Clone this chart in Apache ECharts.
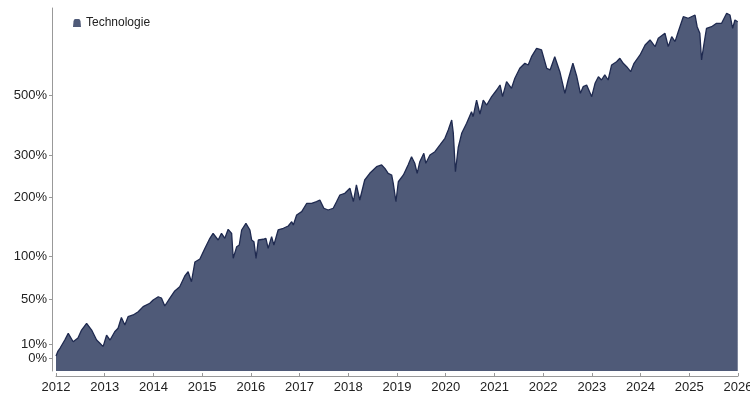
<!DOCTYPE html>
<html>
<head>
<meta charset="utf-8">
<script src="https://cdn.jsdelivr.net/npm/echarts@6/dist/echarts.min.js"></script>
<style>html,body{margin:0;padding:0;background:#fff}#c{width:750px;height:400px}</style>
</head>
<body>
<div id="c"></div>
<script>
var seriesName = 'Technologie';
var dates = ['2012-01-01','2012-01-16','2012-02-01','2012-03-07','2012-04-02','2012-05-09','2012-06-14','2012-07-11','2012-08-18','2012-09-25','2012-11-01','2012-11-26','2012-12-20',
'2013-01-15','2013-02-10','2013-03-17','2013-04-11','2013-05-06','2013-06-01','2013-06-25','2013-08-02','2013-09-09','2013-10-16','2013-12-05','2013-12-30',
'2014-02-06','2014-03-02','2014-03-27','2014-05-03','2014-06-10','2014-07-17','2014-08-24','2014-09-18','2014-10-13','2014-11-08','2014-12-15',
'2015-01-22','2015-02-28','2015-03-24','2015-05-01','2015-05-26','2015-06-20','2015-07-15','2015-08-10','2015-08-22','2015-09-17','2015-10-06','2015-10-24','2015-11-25','2015-12-25',
'2016-01-07','2016-01-24','2016-02-09','2016-02-26','2016-04-03','2016-04-23','2016-05-10','2016-06-05','2016-06-22','2016-07-24','2016-09-01','2016-10-08','2016-11-03','2016-11-15','2016-12-10',
'2017-01-17','2017-02-24','2017-04-01','2017-05-08','2017-06-02','2017-07-02','2017-08-03','2017-09-10','2017-10-05','2017-10-30','2017-12-06',
'2018-01-13','2018-02-08','2018-03-03','2018-03-28','2018-05-04','2018-06-11','2018-08-01','2018-09-08','2018-10-02','2018-10-27','2018-11-22','2018-12-04','2018-12-24',
'2019-01-11','2019-02-18','2019-03-25','2019-04-20','2019-05-14','2019-06-01','2019-06-21','2019-07-21','2019-08-05','2019-09-05','2019-10-12','2019-11-19','2019-12-26',
'2020-01-20','2020-02-15','2020-02-27','2020-03-14','2020-04-04','2020-04-30','2020-06-06','2020-07-13','2020-07-25','2020-08-20','2020-09-14','2020-10-09','2020-11-04','2020-12-11',
'2021-01-18','2021-02-12','2021-03-03','2021-04-02','2021-05-09','2021-06-03','2021-07-10','2021-08-17','2021-09-11','2021-10-06','2021-11-13','2021-12-20',
'2022-01-28','2022-02-22','2022-03-29','2022-05-06','2022-06-13','2022-07-07','2022-08-12','2022-09-09','2022-10-07','2022-10-28','2022-11-23','2022-12-31',
'2023-01-25','2023-02-19','2023-03-14','2023-04-08','2023-05-03','2023-05-29','2023-07-05','2023-07-30','2023-08-24','2023-09-19','2023-10-19','2023-11-13','2023-12-28',
'2024-02-04','2024-03-12','2024-04-19','2024-05-13','2024-07-02','2024-07-27','2024-08-22','2024-09-16','2024-10-10','2024-11-17','2024-12-24',
'2025-02-13','2025-03-01','2025-03-21','2025-04-03','2025-04-20','2025-05-10','2025-06-17','2025-07-24','2025-08-31','2025-10-08','2025-11-02','2025-11-22','2025-12-09','2025-12-30'];
var values = [1.7,5.2,7.4,13.4,18.7,12.1,15.0,21.4,27.1,21.4,13.4,10.9,8.4,
17.3,13.4,20.0,22.9,32.2,25.6,33.0,34.5,37.5,42.4,45.7,49.0,
52.3,51.0,43.0,50.7,58.4,63.1,75.4,80.6,68.7,93.0,97.0,
111.8,126.8,134.6,124.2,134.6,126.8,141.1,134.6,97.9,114.2,116.7,140.0,151.2,140.0,
124.2,121.6,97.9,124.2,125.3,126.8,111.8,129.3,116.7,140.0,142.8,146.6,154.0,148.3,165.9,
171.9,187.9,187.9,191.0,194.4,178.3,175.0,178.3,191.0,204.6,208.2,
218.9,191.0,226.1,194.4,237.4,253.1,269.4,273.7,265.3,253.1,249.1,229.9,191.0,
233.4,249.1,273.7,295.4,278.1,253.1,282.2,304.7,278.1,300.1,309.1,328.3,348.3,
374.3,407.7,364.8,257.0,321.0,363.8,396.6,437.3,419.3,481.7,428.9,481.7,462.3,495.1,
522.8,544.5,495.1,559.1,530.1,574.5,622.0,647.3,638.7,681.6,727.5,718.2,
622.0,614.0,681.6,605.6,509.1,566.8,647.3,585.3,509.1,537.3,544.5,495.1,
552.0,582.0,566.8,590.1,566.8,638.7,655.3,673.0,647.3,630.0,605.6,647.3,690.8,
746.6,775.9,736.8,786.0,816.7,736.8,795.8,765.9,826.7,926.0,915.5,
938.1,858.9,816.7,664.3,746.6,848.4,858.9,881.2,881.2,950.4,938.1,848.4,903.5,891.7];
var yTickPercents = [0, 10, 50, 100, 200, 300, 500];
var xTickYears = [2012, 2013, 2014, 2015, 2016, 2017, 2018, 2019, 2020, 2021, 2022, 2023, 2024, 2025, 2026];

function toLog(p) { return Math.log10(1 + p / 100); }
function toYear(s) {
  var p = s.split('-').map(Number);
  var y = p[0];
  var t = Date.UTC(y, p[1] - 1, p[2]);
  var a = Date.UTC(y, 0, 1), b = Date.UTC(y + 1, 0, 1);
  return y + (t - a) / (b - a);
}
var seriesData = dates.map(function (d, i) { return [toYear(d), toLog(values[i])]; });
var yTickValues = yTickPercents.map(toLog);

var chart = echarts.init(document.getElementById('c'), null, {renderer: 'canvas'});
chart.setOption({
  animation: false,
  textStyle: {fontFamily: 'Liberation Sans, Arial, sans-serif'},
  grid: {left: 56, right: 12, top: 8, bottom: 29, containLabel: false, outerBoundsMode: 'none'},
  legend: {
    show: true, left: 68, top: 12,
    itemWidth: 8, itemHeight: 8, itemGap: 10,
    icon: 'path://M3,0 L7,0 Q9,0 9.4,3 L10,10 L0,10 L0.6,3 Q1,0 3,0 Z',
    textStyle: {fontSize: 12, color: '#222', fontFamily: 'Liberation Sans, Arial, sans-serif'},
    data: [seriesName]
  },
  xAxis: {
    type: 'value', min: 2012, max: 2026, interval: 1, offset: 5,
    axisLine: {show: true, onZero: false, lineStyle: {color: '#999', width: 1}},
    axisTick: {show: true, inside: true, length: 3, lineStyle: {color: '#999'}},
    axisLabel: {fontSize: 13, color: '#222', margin: 5, showMaxLabel: true, showMinLabel: true,
      formatter: function (v) { return String(Math.round(v)); }},
    splitLine: {show: false}
  },
  yAxis: {
    type: 'value', min: -0.037, max: 1.037, offset: 4,
    axisLine: {show: true, onZero: false, lineStyle: {color: '#999', width: 1}},
    axisTick: {show: true, length: 3, customValues: yTickValues, lineStyle: {color: '#999'}},
    axisLabel: {fontSize: 13, color: '#222', margin: 5, customValues: yTickValues,
      formatter: function (v) { return Math.round((Math.pow(10, v) - 1) * 100) + '%'; }},
    splitLine: {show: false}
  },
  series: [{
    name: seriesName, type: 'line', data: seriesData,
    showSymbol: false, symbol: 'none', smooth: false, clip: true,
    itemStyle: {color: '#4f5a78'},
    lineStyle: {color: '#1f2a50', width: 1.3},
    areaStyle: {color: '#4f5a78', opacity: 1, origin: 'start'}
  }]
});
</script>
</body>
</html>
